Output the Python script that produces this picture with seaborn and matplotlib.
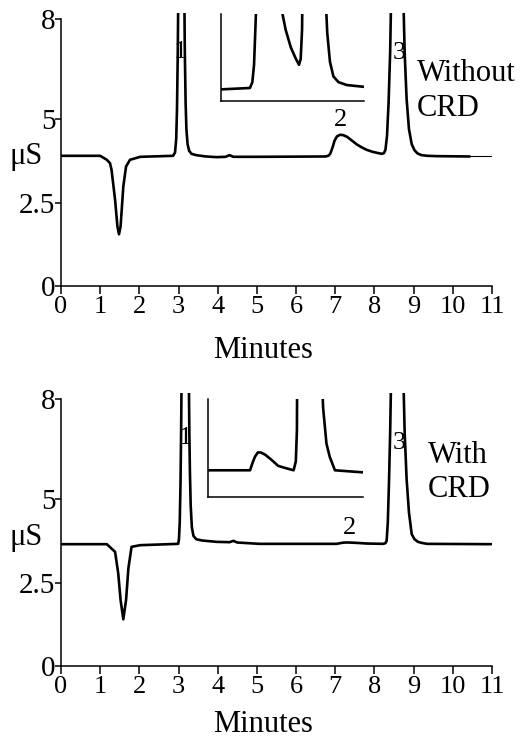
import numpy as np
import pandas as pd
import matplotlib
matplotlib.use("Agg")
import matplotlib.pyplot as plt
import seaborn as sns

# chromatogram traces (minutes, uS); off-scale apexes estimated
top_t = [0.0, 1.0, 1.17, 1.25, 1.29, 1.38, 1.44, 1.48, 1.52, 1.59, 1.66, 1.76, 2.02, 2.86,
         2.91, 2.94, 2.96, 2.98, 2.995, 3.07, 3.145, 3.16, 3.18, 3.2, 3.23, 3.27, 3.33,
         3.45, 3.7, 3.97, 4.2, 4.3, 4.4, 5.0,
         6.75, 6.82, 6.87, 6.93, 6.98, 7.04, 7.12, 7.2, 7.3, 7.42, 7.55, 7.68, 7.8, 7.95,
         8.1, 8.19, 8.24, 8.28, 8.32, 8.36, 8.4, 8.43, 8.58, 8.73, 8.77, 8.82, 8.88, 8.95,
         9.02, 9.1, 9.2, 9.35, 9.6, 10.43]
top_v = [3.9, 3.9, 3.78, 3.68, 3.48, 2.58, 1.78, 1.55, 1.78, 2.98, 3.58, 3.78, 3.87, 3.9,
         4.0, 4.4, 5.3, 7.0, 9.0, 30.0, 9.0, 7.0, 5.5, 4.7, 4.25, 4.05, 3.96,
         3.92, 3.88, 3.86, 3.87, 3.92, 3.87, 3.87,
         3.88, 3.9, 3.96, 4.15, 4.35, 4.48, 4.53, 4.52, 4.47, 4.36, 4.24, 4.15, 4.08, 4.02,
         3.98, 3.96, 3.98, 4.08, 4.5, 5.5, 7.0, 9.0, 30.0, 9.0, 7.0, 5.6, 4.7, 4.25,
         4.07, 3.97, 3.92, 3.9, 3.89, 3.88]
top_tail_t = [10.43, 10.98]
top_tail_v = [3.88, 3.88]

bot_t = [0.0, 1.17, 1.27, 1.38, 1.46, 1.52, 1.59, 1.66, 1.72, 1.8, 2.02, 2.99,
         3.01, 3.03, 3.05, 3.065, 3.08, 3.17, 3.26, 3.275, 3.29, 3.31, 3.34, 3.38, 3.45,
         3.6, 3.97, 4.3, 4.4, 4.5, 5.07,
         7.04, 7.1, 7.17, 7.25, 7.33, 7.45, 7.6, 7.8, 8.0, 8.22, 8.28, 8.31, 8.34, 8.37,
         8.4, 8.43, 8.58, 8.73, 8.77, 8.82, 8.88, 8.95, 9.02, 9.11, 9.2, 9.34, 10.98]
bot_v = [3.65, 3.65, 3.54, 3.42, 2.78, 1.98, 1.40, 1.98, 2.93, 3.57, 3.62, 3.66,
         3.8, 4.3, 5.5, 7.0, 9.0, 30.0, 9.0, 7.0, 5.8, 4.8, 4.15, 3.9, 3.8,
         3.76, 3.72, 3.71, 3.75, 3.7, 3.66,
         3.66, 3.675, 3.69, 3.70, 3.70, 3.695, 3.685, 3.67, 3.665, 3.66, 3.68, 3.75, 4.3,
         5.5, 7.0, 9.0, 30.0, 9.0, 7.0, 5.6, 4.6, 3.95, 3.8, 3.72, 3.69, 3.66, 3.65]

# peak labels: (text, minutes, uS)
top_labels = [("1", 3.04, 7.0), ("2", 7.14, 4.97), ("3", 8.63, 6.98)]
bot_labels = [("1", 3.16, 6.83), ("2", 7.37, 4.12), ("3", 8.63, 6.68)]

x_ticks = list(range(0, 12))
y_ticks = [0, 2.5, 5, 8]
y_ticklabels = ["0", "2.5", "5", "8"]

sns.set_theme(style="ticks")
plt.rcParams["font.family"] = ["Liberation Serif", "DejaVu Serif"]
plt.rcParams["axes.linewidth"] = 1.1
plt.rcParams["text.color"] = "black"
plt.rcParams["axes.labelcolor"] = "black"
plt.rcParams["axes.edgecolor"] = "black"
plt.rcParams["xtick.color"] = "black"
plt.rcParams["ytick.color"] = "black"

fig = plt.figure(figsize=(5.21, 7.5), dpi=100)

top_df = pd.DataFrame({"Minutes": top_t, "uS": top_v})
bot_df = pd.DataFrame({"Minutes": bot_t, "uS": bot_v})


def draw_panel(rect, df, labels, cond, cond_xy, inset_rect, inset_ylim, ylab_y, xlab_y):
    ax = fig.add_axes(rect)
    sns.lineplot(data=df, x="Minutes", y="uS", ax=ax, color="black", lw=1.9,
                 estimator=None, sort=False)
    ax.set_xlim(0, 11)
    ax.set_ylim(0, 8.18)
    sns.despine(ax=ax)
    ax.spines["left"].set_bounds(0, 8)
    ax.set_xticks(x_ticks)
    ax.set_xticklabels([str(t) for t in x_ticks], fontsize=19)
    ax.set_yticks(y_ticks)
    ax.set_yticklabels(y_ticklabels, fontsize=21)
    ax.tick_params(axis="x", direction="out", length=6, width=1.1, pad=1)
    ax.tick_params(axis="y", direction="out", length=4, width=1.1, pad=0)
    ax.set_xlabel("Minutes", fontsize=22)
    ax.xaxis.set_label_coords(0.468, xlab_y)
    ax.xaxis.label.set_verticalalignment("center")
    ax.set_ylabel("μS", fontsize=22, rotation=0)
    ax.yaxis.set_label_coords(-0.081, ylab_y)
    ax.yaxis.label.set_verticalalignment("center")
    for txt, x, y in labels:
        ax.text(x, y, txt, fontsize=19, ha="center", va="center")
    ax.text(cond_xy[0], cond_xy[1], cond, fontsize=22, ha="left", va="center",
            linespacing=1.25)

    # magnified view of the 6-10 min region
    ins = fig.add_axes(inset_rect)
    ins.patch.set_alpha(0)
    sns.lineplot(data=df, x="Minutes", y="uS", ax=ins, color="black", lw=1.9,
                 estimator=None, sort=False)
    ins.set_xlim(5.9, 10.1)
    ins.set_ylim(*inset_ylim)
    sns.despine(ax=ins)
    ins.set_xticks([])
    ins.set_yticks([])
    ins.set_xlabel("")
    ins.set_ylabel("")
    return ax


ax1 = draw_panel([0.1171, 0.6187, 0.8273, 0.364], top_df, top_labels, "Without\nCRD",
                 (9.08, 5.84), [0.4242, 0.8653, 0.2745, 0.116], (3.835, 4.135), 0.476, -0.238)
ax1.plot(top_tail_t, top_tail_v, color="black", lw=0.8)

ax2 = draw_panel([0.1171, 0.112, 0.8273, 0.364], bot_df, bot_labels, "With\nCRD",
                 (9.36, 5.8), [0.3992, 0.3373, 0.2975, 0.1307], (3.60, 3.82), 0.469, -0.216)

fig.savefig("out.png", dpi=100)
